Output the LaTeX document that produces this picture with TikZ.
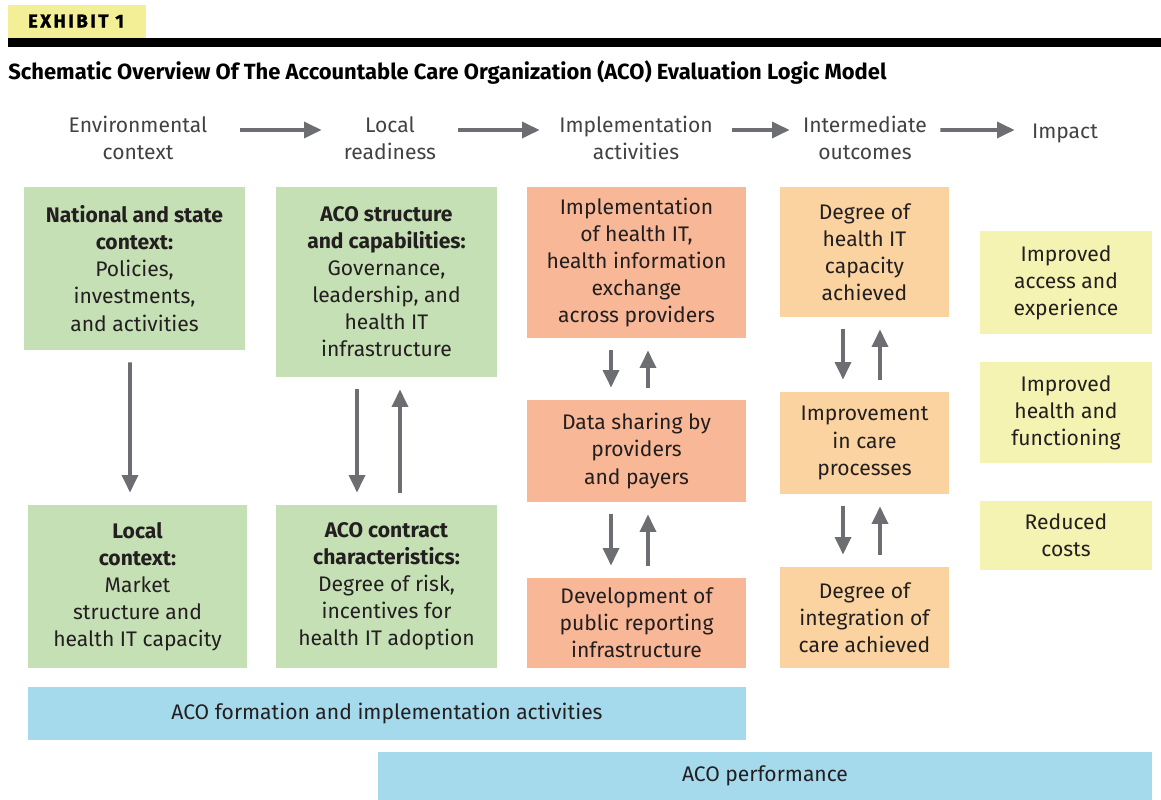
\documentclass[tikz,border=0pt]{standalone}
\usepackage{fontspec}
\setmainfont{Fira Sans}
\newfontfamily\titlefont{Fira Sans}
\newfontfamily\exhibitfont[LetterSpace=14, BoldFeatures={FakeBold=1.5}]{Fira Sans}
\usetikzlibrary{arrows.meta}
\definecolor{ctxgreen}{RGB}{198,224,181}
\definecolor{implsalmon}{RGB}{248,183,150}
\definecolor{outorange}{RGB}{250,211,160}
\definecolor{impyellow}{RGB}{245,243,178}
\definecolor{acoblue}{RGB}{164,218,236}
\definecolor{exhyellow}{RGB}{243,239,150}
\definecolor{flowgray}{RGB}{109,110,113}
\definecolor{inkgray}{RGB}{35,31,32}
\tikzset{
  box/.style={rectangle, inner sep=0pt, align=center, text=inkgray,
    font=\fontsize{12}{15.4}\selectfont},
  head/.style={box, text=inkgray!85},
  flow/.style={draw=flowgray, line width=2.2pt,
    -{Triangle[length=10pt,width=9pt]}},
  vflow/.style={flow, shorten <=0.24cm, shorten >=0.24cm}
}
\begin{document}
\begin{tikzpicture}[x=0.02cm,y=-0.02cm]
  \useasboundingbox (0,0) rectangle (1161,800);
  % exhibit tag and rule
  \fill[exhyellow] (8,5) rectangle (146,40);
  \fill[black] (8,38) rectangle (1161,47);
  \node[anchor=center] (exh) at (76,21)
    {\exhibitfont\bfseries\fontsize{10.5}{12}\selectfont EXHIBIT 1};
  \node[anchor=west, inner sep=0pt] (title) at (8,73)
    {\titlefont\bfseries\fontsize{12.5}{15}\selectfont Schematic Overview Of The Accountable Care Organization (ACO) Evaluation Logic Model};
  % column heads
  \node[head, minimum width=4.08cm] (env) at (138,138) {Environmental\\context};
  \node[head, minimum width=2.72cm] (loc) at (390,138) {Local\\readiness};
  \node[head, minimum width=3.84cm] (impl) at (636,138) {Implementation\\activities};
  \node[head, minimum width=3.00cm] (inter) at (865,138) {Intermediate\\outcomes};
  \node[head, minimum width=2.00cm] (impact) at (1065,133) {Impact};
  \draw[flow] ([yshift=0.16cm]env.east) -- ([yshift=0.16cm]loc.west);
  \draw[flow] ([yshift=0.16cm]loc.east) -- ([yshift=0.16cm]impl.west);
  \draw[flow] ([yshift=0.16cm]impl.east) -- ([yshift=0.16cm]inter.west);
  \draw[flow] ([yshift=0.16cm]inter.east) -- ([yshift=0.06cm]impact.west);
  % environmental context and local readiness
  \node[box, fill=ctxgreen, minimum width=4.42cm, minimum height=3.26cm] (natl) at (134.5,268.5)
    {\textbf{National and state}\\\textbf{context:}\\Policies,\\investments,\\and activities};
  \node[box, fill=ctxgreen, minimum width=4.38cm, minimum height=3.26cm] (local) at (137.5,586.5)
    {\textbf{Local}\\\textbf{context:}\\Market\\structure and\\health IT capacity};
  \node[box, fill=ctxgreen, minimum width=4.42cm, minimum height=3.80cm] (struct) at (386.5,282)
    {\textbf{ACO structure}\\\textbf{and capabilities:}\\Governance,\\leadership, and\\health IT\\infrastructure};
  \node[box, fill=ctxgreen, minimum width=4.42cm, minimum height=3.26cm] (contract) at (386.5,586.5)
    {\textbf{ACO contract}\\\textbf{characteristics:}\\Degree of risk,\\incentives for\\health IT adoption};
  % implementation activities
  \node[box, fill=implsalmon, minimum width=4.38cm, minimum height=3.02cm] (hit) at (636.5,262.5)
    {Implementation\\of health IT,\\health information\\exchange\\across providers};
  \node[box, fill=implsalmon, minimum width=4.38cm, minimum height=2.04cm] (share) at (636.5,451)
    {Data sharing by\\providers\\and payers};
  \node[box, fill=implsalmon, minimum width=4.38cm, minimum height=1.80cm] (report) at (636.5,623)
    {Development of\\public reporting\\infrastructure};
  % intermediate outcomes
  \node[box, fill=outorange, minimum width=3.38cm, minimum height=2.60cm] (capacity) at (864.5,252)
    {Degree of\\health IT\\capacity\\achieved};
  \node[box, fill=outorange, minimum width=3.38cm, minimum height=2.04cm] (process) at (864.5,443)
    {Improvement\\in care\\processes};
  \node[box, fill=outorange, minimum width=3.38cm, minimum height=2.02cm] (integ) at (864.5,617.5)
    {Degree of\\integration of\\care achieved};
  % impact
  \node[box, fill=impyellow, minimum width=3.44cm, minimum height=2.06cm] (access) at (1066,282.5)
    {Improved\\access and\\experience};
  \node[box, fill=impyellow, minimum width=3.44cm, minimum height=2.02cm] (health) at (1066,412.5)
    {Improved\\health and\\functioning};
  \node[box, fill=impyellow, minimum width=3.44cm, minimum height=1.38cm] (costs) at (1066,535.5)
    {Reduced\\costs};
  % spanning bars
  \node[box, fill=acoblue, minimum width=14.36cm, minimum height=1.06cm] (form) at (387,713.5)
    {ACO formation and implementation activities};
  \node[box, fill=acoblue, minimum width=15.48cm, minimum height=0.96cm] (perf) at (765,776)
    {ACO performance};
  % vertical links
  \draw[vflow] ([xshift=-0.09cm]natl.south) -- ([xshift=-0.15cm]local.north);
  \draw[vflow] ([xshift=-0.59cm]struct.south) -- ([xshift=-0.59cm]contract.north);
  \draw[vflow] ([xshift=0.27cm]contract.north) -- ([xshift=0.27cm]struct.south);
  \draw[vflow] ([xshift=-0.51cm]hit.south) -- ([xshift=-0.51cm]share.north);
  \draw[vflow] ([xshift=0.23cm]share.north) -- ([xshift=0.23cm]hit.south);
  \draw[vflow] ([xshift=-0.51cm]share.south) -- ([xshift=-0.51cm]report.north);
  \draw[vflow] ([xshift=0.23cm]report.north) -- ([xshift=0.23cm]share.south);
  \draw[vflow] ([xshift=-0.43cm]capacity.south) -- ([xshift=-0.43cm]process.north);
  \draw[vflow] ([xshift=0.31cm]process.north) -- ([xshift=0.31cm]capacity.south);
  \draw[vflow] ([xshift=-0.43cm]process.south) -- ([xshift=-0.43cm]integ.north);
  \draw[vflow] ([xshift=0.31cm]integ.north) -- ([xshift=0.31cm]process.south);
\end{tikzpicture}
\end{document}
